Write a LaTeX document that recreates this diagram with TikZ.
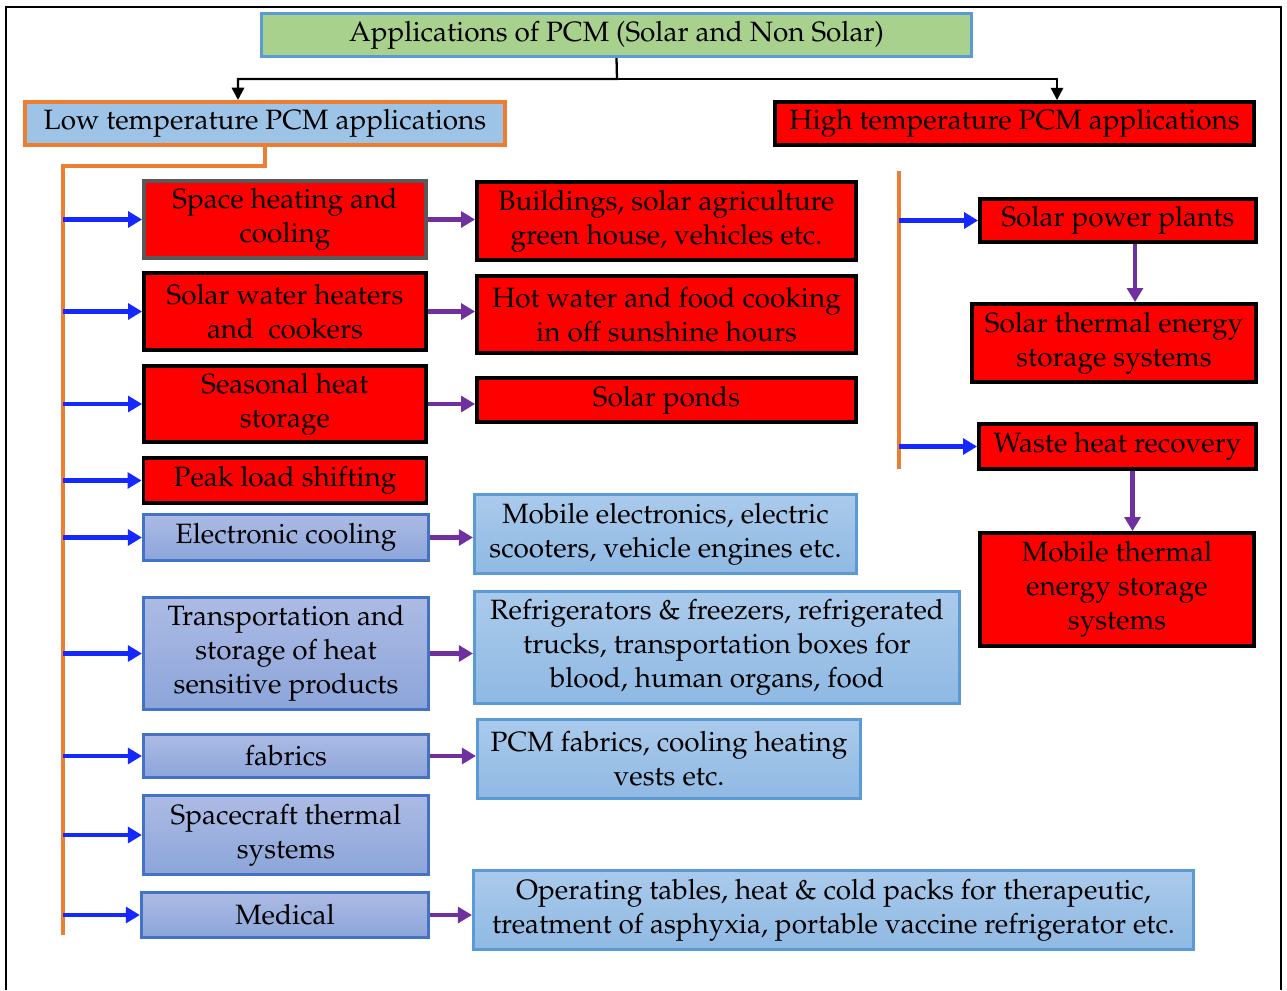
\documentclass[tikz,border=0pt]{standalone}
\usepackage[T1]{fontenc}
\usepackage{mathpazo}
\usepackage{xcolor}
\usepackage{tikz}
\usetikzlibrary{arrows.meta, positioning, calc}

\definecolor{pcmred}{RGB}{255,0,0}
\definecolor{pcmgreen}{RGB}{169,209,142}
\definecolor{edgeblue}{RGB}{91,155,213}
\definecolor{lowblue}{RGB}{157,195,230}
\definecolor{pcmorange}{RGB}{237,125,49}
\definecolor{arrblue}{RGB}{20,40,255}
\definecolor{arrpurple}{RGB}{112,48,160}
\definecolor{coolT}{RGB}{172,187,228}
\definecolor{coolB}{RGB}{140,165,218}
\definecolor{cooledge}{RGB}{68,114,196}
\definecolor{useT}{RGB}{170,202,235}
\definecolor{useB}{RGB}{143,185,227}

\begin{document}
\begin{tikzpicture}[
  x=0.02cm, y=-0.02cm,
  font=\fontsize{15.9}{19.3}\selectfont,
  hotbox/.style={draw=black, line width=2.2pt, fill=pcmred, align=center, inner sep=1pt},
  coolbox/.style={draw=cooledge, line width=1.8pt, top color=coolT, bottom color=coolB, align=center, inner sep=1pt},
  usebox/.style={draw=edgeblue, line width=1.8pt, top color=useT, bottom color=useB, align=center, inner sep=1pt},
  karrow/.style={-{Triangle[length=7pt,width=7pt]}, line width=1.3pt},
  barrow/.style={-{Triangle[length=8pt,width=9pt]}, line width=2.3pt, draw=arrblue, color=arrblue},
  parrow/.style={-{Triangle[length=8pt,width=9pt]}, line width=2.3pt, draw=arrpurple, color=arrpurple},
  trunk/.style={line width=2.3pt, draw=pcmorange}
]
\useasboundingbox (0,0) rectangle (1287,990);

% Frame
\draw[line width=1.2pt] (6,990) -- (6,7) -- (1281,7) -- (1281,990);

% Top level
\node[draw=edgeblue, line width=1.8pt, fill=pcmgreen, minimum width=14.2cm, minimum height=0.86cm] (title) at (616.5,35) {Applications of PCM (Solar and Non Solar)};
\node[draw=pcmorange, line width=2.3pt, fill=lowblue, minimum width=9.6cm, minimum height=0.86cm] (low) at (265,123.5) {Low temperature PCM applications};
\node[hotbox, minimum width=9.58cm, minimum height=0.86cm] (high) at (1014.5,123.5) {High temperature PCM applications};

% Low temperature column
\node[hotbox, draw=black!65, minimum width=5.64cm, minimum height=1.54cm] (spc) at (285,219.5) {Space heating and\\cooling};
\node[hotbox, minimum width=5.64cm, minimum height=1.54cm] (swh) at (285,311.5) {Solar water heaters\\and~ cookers};
\node[hotbox, minimum width=5.64cm, minimum height=1.52cm] (ssn) at (285,404) {Seasonal heat\\storage};
\node[hotbox, minimum width=5.66cm, minimum height=0.9cm] (peak) at (285,480.5) {Peak load shifting};
\node[coolbox, minimum width=5.7cm, minimum height=0.92cm] (elec) at (286,537.5) {Electronic cooling};
\node[coolbox, minimum width=5.7cm, minimum height=2.24cm] (trans) at (286,653.5) {Transportation and\\storage of heat\\sensitive products};
\node[coolbox, minimum width=5.7cm, minimum height=0.86cm] (fab) at (286,756) {fabrics};
\node[coolbox, minimum width=5.7cm, minimum height=1.58cm] (space) at (286,835) {Spacecraft thermal\\systems};
\node[coolbox, minimum width=5.74cm, minimum height=0.9cm] (med) at (285,915) {Medical};

% Uses
\node[hotbox, minimum width=7.58cm, minimum height=1.56cm] (bld) at (666.5,221) {Buildings, solar agriculture\\green house, vehicles etc.};
\node[hotbox, minimum width=7.58cm, minimum height=1.54cm] (hot) at (666.5,314.5) {Hot water and food cooking\\in off sunshine hours};
\node[hotbox, minimum width=7.58cm, minimum height=0.88cm] (pond) at (666.5,400) {Solar ponds};
\node[usebox, minimum width=7.64cm, minimum height=1.58cm] (mob) at (665.5,534) {Mobile electronics, electric\\scooters, vehicle engines etc.};
\node[usebox, minimum width=9.7cm, minimum height=2.24cm] (fridge) at (717,647.5) {Refrigerators \& freezers, refrigerated\\trucks, transportation boxes for\\blood, human organs, food};
\node[usebox, minimum width=7.66cm, minimum height=1.58cm] (vest) at (669,759) {PCM fabrics, cooling heating\\vests etc.};
\node[usebox, minimum width=14.4cm, minimum height=1.58cm] (oper) at (833.5,910) {Operating tables, heat \& cold packs for therapeutic,\\treatment of asphyxia, portable vaccine refrigerator etc.};

% High temperature column
\node[hotbox, minimum width=5.52cm, minimum height=0.86cm] (spp) at (1118,220.5) {Solar power plants};
\node[hotbox, minimum width=5.68cm, minimum height=1.56cm] (stes) at (1114,343) {Solar thermal energy\\storage systems};
\node[hotbox, minimum width=5.54cm, minimum height=0.9cm] (whr) at (1117.5,446.5) {Waste heat recovery};
\node[hotbox, minimum width=5.48cm, minimum height=2.26cm] (mtes) at (1117,589.5) {Mobile thermal\\energy storage\\systems};

% Connectors
\coordinate (split) at (617,79);
\draw[karrow] (title.south) -- (split) -| ($(low.north)+(-27,0)$);
\draw[karrow] (split) -| ($(high.north)+(42.5,0)$);

\coordinate (ltop) at (63,166);
\coordinate (lbot) at (63,935);
\draw[trunk] (low.south) |- (ltop) -- (lbot);
\foreach \n in {spc,swh,ssn,peak,elec,trans,fab,space,med}
  \draw[barrow] (\n.west -| ltop) -- (\n.west);
\foreach \a/\b in {spc/bld,swh/hot,ssn/pond,elec/mob,trans/fridge,fab/vest,med/oper}
  \draw[parrow] (\a.east) -- (\a.east -| \b.west);

\coordinate (rtop) at (899,171);
\coordinate (rbot) at (899,469);
\draw[trunk] (rtop) -- (rbot);
\draw[barrow] (spp.west -| rtop) -- (spp.west);
\draw[barrow] (whr.west -| rtop) -- (whr.west);
\coordinate (sppout) at ($(spp.south)+(17,0)$);
\coordinate (whrout) at ($(whr.south)+(15,0)$);
\draw[parrow] (sppout) -- (sppout |- stes.north);
\draw[parrow] (whrout) -- (whrout |- mtes.north);

\end{tikzpicture}
\end{document}
